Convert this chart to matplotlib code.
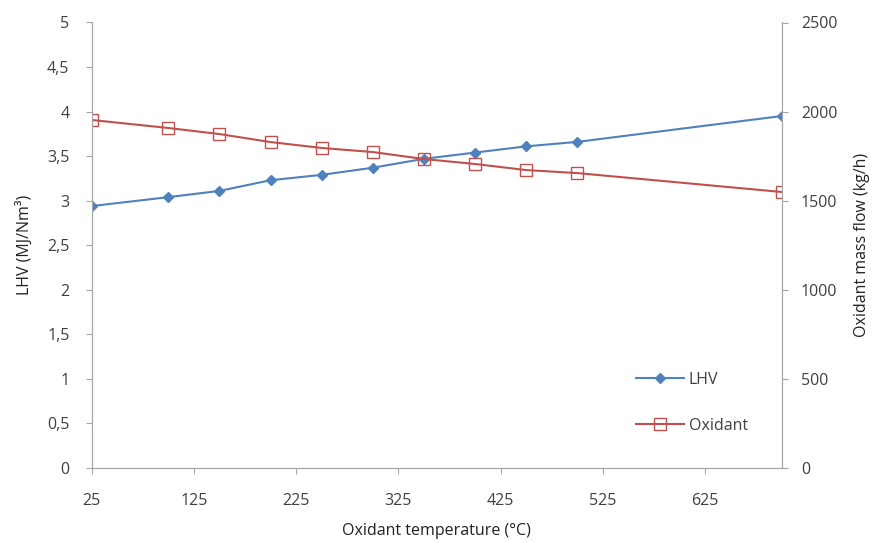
import matplotlib
matplotlib.use("Agg")
import matplotlib.pyplot as plt
from matplotlib.ticker import FuncFormatter

plt.rcParams['font.family'] = ['Open Sans', 'DejaVu Sans']

temperature = [25, 100, 150, 200, 250, 300, 350, 400, 450, 500, 700]
lhv = [2.94, 3.04, 3.11, 3.23, 3.29, 3.37, 3.47, 3.54, 3.61, 3.66, 3.95]
oxidant = [1953, 1908, 1874, 1829, 1796, 1773, 1734, 1706, 1672, 1655, 1549]
x_ticks = [25, 125, 225, 325, 425, 525, 625]
left_ticks = [0, 0.5, 1, 1.5, 2, 2.5, 3, 3.5, 4, 4.5, 5]
right_ticks = [0, 500, 1000, 1500, 2000, 2500]

blue = '#4F81BD'
red = '#C0504D'
axis_col = '#A6A6A6'
text_col = '#404040'

fig = plt.figure(figsize=(8.75, 5.43), dpi=100)
ax = fig.add_axes([91.7/875, 1 - 468/543, (781.6-91.7)/875, (468-22.5)/543])
ax2 = ax.twinx()

l1, = ax.plot(temperature, lhv, color=blue, lw=1.5, marker='D', ms=5,
              mfc=blue, mec=blue, label='LHV')
l2, = ax2.plot(temperature, oxidant, color=red, lw=1.5, marker='s', ms=8,
               mfc='none', mec=red, mew=1.0, label='Oxidant')

ax.set_xlim(25, 700)
ax.set_ylim(0, 5)
ax2.set_ylim(0, 2500)
ax.set_xticks(x_ticks)
ax.set_yticks(left_ticks)
ax2.set_yticks(right_ticks)
ax.yaxis.set_major_formatter(FuncFormatter(lambda v, p: ('%g' % v).replace('.', ',')))

fs = 11.5
for a in (ax, ax2):
    for s in a.spines.values():
        s.set_color(axis_col)
    a.spines['top'].set_visible(False)
    a.tick_params(colors=text_col, labelsize=fs, length=4, width=0.8, color=axis_col)
ax.tick_params(axis='x', pad=14)
ax.tick_params(axis='y', pad=12)
ax2.tick_params(axis='y', pad=10)

ax.set_xlabel('Oxidant temperature (°C)', fontsize=fs, color='#222222', labelpad=10)
ax.set_ylabel('LHV (MJ/Nm³)', fontsize=fs, color='#222222', labelpad=10)
ax2.set_ylabel('Oxidant mass flow (kg/h)', fontsize=fs, color='#222222', labelpad=12)

leg = ax.legend(handles=[l1, l2], loc='lower right', bbox_to_anchor=(0.965, 0.055),
                frameon=False, fontsize=fs, labelspacing=1.9, handlelength=3.0,
                handletextpad=0.3, borderaxespad=0.2)
for t in leg.get_texts():
    t.set_color(text_col)

fig.savefig('out.png', dpi=100)
